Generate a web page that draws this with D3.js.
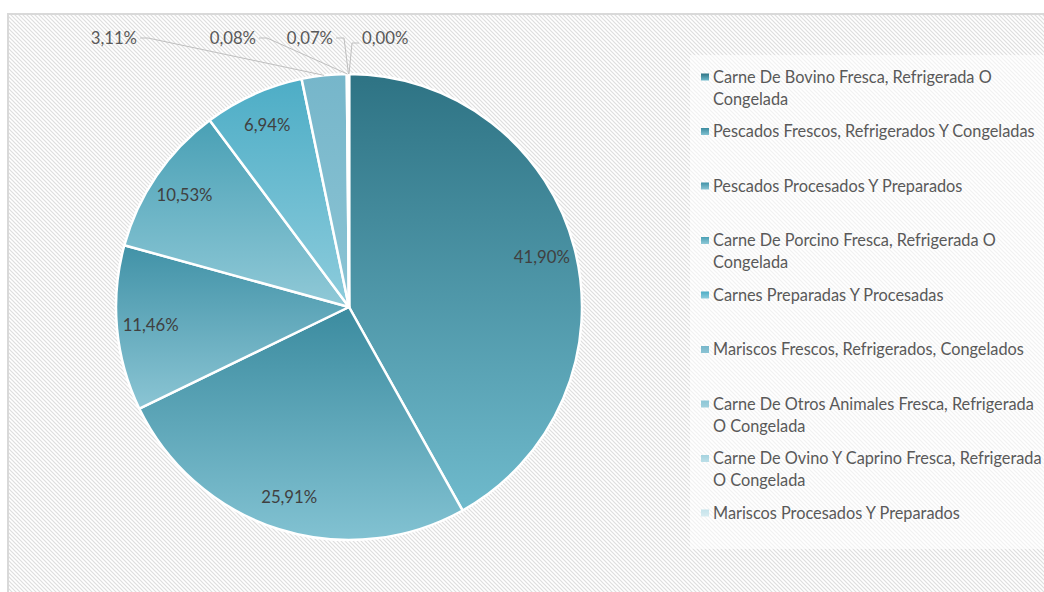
<!DOCTYPE html>
<html lang="es">
<head>
<meta charset="UTF-8">
<title>Participación por producto</title>
<script src="https://d3js.org/d3.v7.min.js"></script>
<style>
    body { margin: 0; background: #fff; }
    svg { display: block; }
</style>
</head>
<body>
<svg id="chart"></svg>
<script>
    // data (share of total, %)
    const categories = [
        "Carne De Bovino Fresca, Refrigerada O Congelada",
        "Pescados Frescos, Refrigerados Y Congeladas",
        "Pescados Procesados Y Preparados",
        "Carne De Porcino Fresca, Refrigerada O Congelada",
        "Carnes Preparadas Y Procesadas",
        "Mariscos Frescos, Refrigerados, Congelados",
        "Carne De Otros Animales Fresca, Refrigerada O Congelada",
        "Carne De Ovino Y Caprino Fresca, Refrigerada O Congelada",
        "Mariscos Procesados Y Preparados"
    ];
    const shares = [41.90, 25.91, 11.46, 10.53, 6.94, 3.11, 0.08, 0.07, 0.00];

    // gradient colours per slice (top -> bottom)
    const topColors = ["#2e7384", "#3b8b9f", "#4192a7", "#49a0b5", "#4dadc6", "#76b6ca", "#8cc6d6", "#a5d3df", "#c5e3eb"];
    const bottomColors = ["#6fbacc", "#82c2d2", "#8bc5d4", "#90c9d7", "#8dccdc", "#8cc4d4", "#a0d0dc", "#bcdfe8", "#d8ecf1"];

    // small slices get their label outside with a leader line
    const outsideLabels = [
        {i: 5, x: 137, y: 38, anchor: "end"},
        {i: 6, x: 256, y: 38, anchor: "end"},
        {i: 7, x: 333, y: 38, anchor: "end"},
        {i: 8, x: 362, y: 38, anchor: "start"}
    ];

    const width = 1044, height = 592;
    const cx = 349, cy = 307, R = 233;
    const fmt = v => d3.format(".2f")(v).replace(".", ",") + "%";
    const fontFamily = "Lato, 'Open Sans', sans-serif";

    const svg = d3.select("#chart").attr("width", width).attr("height", height);
    const defs = svg.append("defs");

    // diagonal hatch background
    const pat = defs.append("pattern")
        .attr("id", "hatch")
        .attr("patternUnits", "userSpaceOnUse")
        .attr("width", 4).attr("height", 4);
    pat.append("rect").attr("width", 4).attr("height", 4).attr("fill", "#ffffff");
    pat.append("path")
        .attr("d", "M-1,3 l2,2 M0,0 l4,4 M3,-1 l2,2")
        .attr("stroke", "#dedede").attr("stroke-width", 1.2);

    shares.forEach((s, i) => {
        const g = defs.append("linearGradient")
            .attr("id", "grad" + i)
            .attr("x1", 0).attr("y1", 0).attr("x2", 0).attr("y2", 1);
        g.append("stop").attr("offset", "0%").attr("stop-color", topColors[i]);
        g.append("stop").attr("offset", "100%").attr("stop-color", bottomColors[i]);
    });

    svg.append("rect")
        .attr("x", 8).attr("y", 14)
        .attr("width", 1100).attr("height", 700)
        .attr("fill", "url(#hatch)")
        .attr("stroke", "#d9d9d9").attr("stroke-width", 2);

    // measure helper to size the fallback font like the original
    function fitSize(str, target) {
        const t = svg.append("text").attr("font-family", fontFamily).attr("font-size", 100).text(str);
        const w = t.node().getComputedTextLength();
        t.remove();
        return 100 * target / w;
    }
    const labelSize = fitSize("41,90%", 56);
    const legendSize = fitSize(categories[1], 322);

    // pie
    const pie = d3.pie().sort(null).value(d => d);
    const arcs = pie(shares);
    const arc = d3.arc().innerRadius(0).outerRadius(R);
    const labelArc = d3.arc().innerRadius(R * 0.855).outerRadius(R * 0.855);

    const g = svg.append("g").attr("transform", `translate(${cx},${cy})`);
    g.selectAll("path.slice")
        .data(arcs)
        .join("path")
        .attr("class", "slice")
        .attr("d", arc)
        .attr("fill", (d, i) => `url(#grad${i})`)
        .attr("stroke", "#ffffff")
        .attr("stroke-width", 2.5)
        .attr("stroke-linejoin", "round");

    // inside labels
    const insideIdx = shares.map((s, i) => i).filter(i => !outsideLabels.some(o => o.i === i));
    g.selectAll("text.inlabel")
        .data(insideIdx)
        .join("text")
        .attr("class", "inlabel")
        .attr("transform", i => `translate(${labelArc.centroid(arcs[i])})`)
        .attr("text-anchor", "middle")
        .attr("dy", "0.35em")
        .attr("font-family", fontFamily)
        .attr("font-size", labelSize)
        .attr("fill", "#404040")
        .text(i => fmt(shares[i]));

    // outside labels + leader lines
    outsideLabels.forEach(o => {
        const a = arcs[o.i];
        const mid = (a.startAngle + a.endAngle) / 2;
        const ex = cx + R * Math.sin(mid), ey = cy - R * Math.cos(mid);
        let pts;
        if (o.anchor === "end") {
            pts = [[o.x + 3, o.y], [o.x + 11, o.y], [ex, ey]];
        } else {
            pts = [[o.x - 3, o.y + 5], [o.x - 10, o.y + 5], [ex, ey]];
        }
        svg.append("path")
            .attr("d", d3.line()(pts))
            .attr("fill", "none")
            .attr("stroke", "#bfbfbf")
            .attr("stroke-width", 1);
        svg.append("text")
            .attr("x", o.x).attr("y", o.y)
            .attr("text-anchor", o.anchor)
            .attr("dy", "0.35em")
            .attr("font-family", fontFamily)
            .attr("font-size", labelSize)
            .attr("fill", "#595959")
            .text(fmt(shares[o.i]));
    });

    // legend
    svg.append("rect")
        .attr("x", 690).attr("y", 55)
        .attr("width", 360).attr("height", 494)
        .attr("fill", "#ffffff").attr("fill-opacity", 0.6);

    const maxW = 330;
    function wrap(str) {
        const t = svg.append("text").attr("font-family", fontFamily).attr("font-size", legendSize);
        const words = str.split(" ");
        const lines = [];
        let cur = "";
        words.forEach(w => {
            const test = cur ? cur + " " + w : w;
            t.text(test);
            if (t.node().getComputedTextLength() > maxW && cur) {
                lines.push(cur);
                cur = w;
            } else {
                cur = test;
            }
        });
        lines.push(cur);
        t.remove();
        return lines;
    }

    const legend = svg.append("g");
    categories.forEach((c, i) => {
        const y0 = 77 + i * 54.5;
        legend.append("rect")
            .attr("x", 701).attr("y", y0 - 3.5)
            .attr("width", 8).attr("height", 7)
            .attr("fill", `url(#grad${i})`);
        const t = legend.append("text")
            .attr("x", 713).attr("y", y0)
            .attr("dy", "0.35em")
            .attr("font-family", fontFamily)
            .attr("font-size", legendSize)
            .attr("fill", "#595959");
        wrap(c).forEach((line, k) => {
            t.append("tspan")
                .attr("x", 713)
                .attr("dy", k === 0 ? "0.35em" : 22)
                .text(line);
        });
    });
</script>
</body>
</html>
